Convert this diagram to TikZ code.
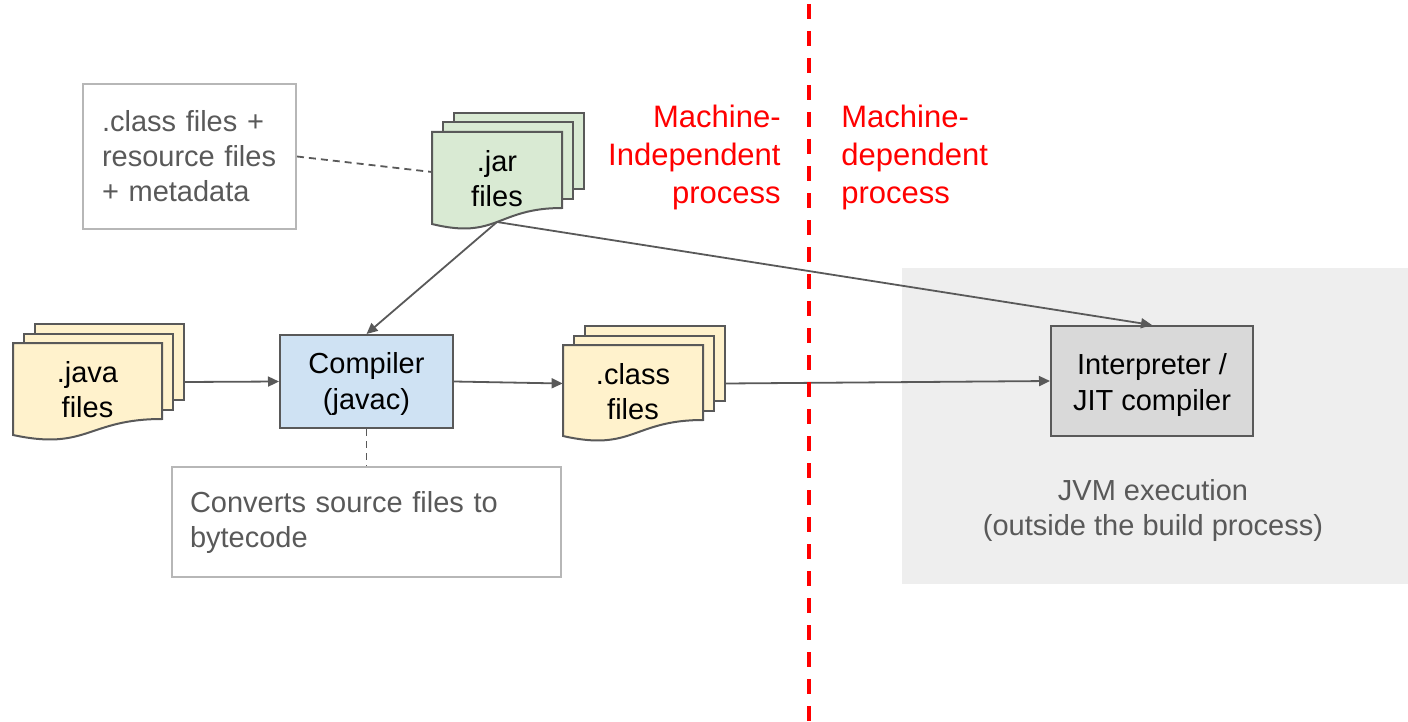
\documentclass[tikz,border=0pt]{standalone}
\usepackage{fontspec}
\setmainfont{Liberation Sans}
\usetikzlibrary{arrows.meta,fit}

\definecolor{docyellow}{HTML}{FFF2CC}
\definecolor{docgreen}{HTML}{D9EAD3}
\definecolor{compblue}{HTML}{CFE2F3}
\definecolor{interpgray}{HTML}{D9D9D9}
\definecolor{zonegray}{HTML}{EEEEEE}
\definecolor{linegray}{HTML}{595959}
\definecolor{noteborder}{HTML}{B7B7B7}
\definecolor{notetext}{HTML}{595959}
\definecolor{sepred}{HTML}{FF0000}

% stack of three document pages: name, x, y (front top-left), width, height, fill, label
\newcommand{\docstack}[7]{%
  \draw[page, fill=#6] (#2+22,#3-19) rectangle (#2+#4+22,#3+#5-19);
  \draw[page, fill=#6] (#2+11,#3-9.5) rectangle (#2+#4+11,#3+#5-9.5);
  \draw[page, fill=#6] (#2,#3) -- (#2+#4,#3) -- (#2+#4,#3+#5)
    .. controls (#2+#4/2,#3+#5) and (#2+#4/2,#3+#5+32) .. (#2,#3+#5+16) -- cycle;
  \coordinate (#1-nw) at (#2,#3-19);
  \coordinate (#1-se) at (#2+#4+22,#3+#5+21);
  \node[fit=(#1-nw)(#1-se), inner sep=0pt] (#1) {};
  \coordinate (#1-wave) at (#2+#4/2,#3+#5+14);
  \coordinate (#1-front) at (#2,#3+40);
  \node[doctext] (#1-label) at (#2+#4/2,#3+47) {#7};
}

\begin{document}
\begin{tikzpicture}[x=0.5pt,y=-0.5pt,
  page/.style={draw=linegray, line width=1pt, line join=miter},
  doctext/.style={font=\fontsize{14.5}{17.5}\selectfont, align=center, text=black, inner sep=0pt},
  procbox/.style={draw=linegray, line width=1pt, font=\fontsize{14.5}{18}\selectfont,
    align=center, inner sep=0pt},
  proclabel/.style={font=\fontsize{14.5}{18}\selectfont, align=center, inner sep=0pt},
  notebox/.style={draw=noteborder, line width=1pt, font=\fontsize{14.5}{17.5}\selectfont,
    text=notetext, align=left, inner ysep=0pt},
  redtext/.style={font=\fontsize{15.5}{19}\selectfont, text=sepred, inner sep=0pt},
  arr/.style={draw=linegray, line width=0.9pt, -{Triangle[length=5.5pt,width=5pt]}},
  link/.style={draw=linegray, line width=0.9pt, dash pattern=on 3.5pt off 2.5pt},
  separator/.style={draw=sepred, line width=2pt, dash pattern=on 7.5pt off 6pt}
]
\useasboundingbox (0,0) rectangle (1408,722);

% JVM zone
\node[fill=zonegray, minimum width=253pt, minimum height=158pt, inner sep=0pt] (jvmzone) at (1155,426) {};
\node[font=\fontsize{14.5}{17.5}\selectfont, text=notetext, align=center, inner sep=0pt]
  (jvmlabel) at (1153,510) {JVM execution\\(outside the build process)};

% document stacks
\docstack{java}{13}{343}{149}{76}{docyellow}{.java\\files}
\docstack{class}{563}{345}{140}{75}{docyellow}{.class\\files}
\docstack{jar}{432}{132}{130}{76}{docgreen}{.jar\\files}

% processing boxes
\node[procbox, fill=compblue, minimum width=86.5pt, minimum height=46.5pt]
  (compiler) at (366.5,381.5) {};
\node[proclabel] (compiler-label) at (366.5,384) {Compiler\\(javac)};
\node[procbox, fill=interpgray, minimum width=101pt, minimum height=55pt]
  (interp) at (1152,381) {};
\node[proclabel] (interp-label) at (1152,385) {Interpreter /\\JIT compiler};

% notes
\node[notebox, text width=87.5pt, inner xsep=9.5pt, minimum height=72.5pt]
  (jarnote) at (189.5,156.5) {.class files +\\resource files\\+ metadata};
\node[notebox, text width=176.5pt, inner xsep=9pt, minimum height=55pt]
  (srcnote) at (366.5,522) {Converts source files to\\bytecode};

% connectors
\draw[link] (jarnote.east) -- (jar-front);
\draw[link] (compiler.south) -- (srcnote.north);
\draw[arr] (java.east) -- (compiler.west);
\draw[arr] (compiler.east) -- (class.west);
\draw[arr] (class.east) -- (interp.west);
\draw[arr] (jar-wave) -- (compiler.north);
\draw[arr] (jar-wave) -- (interp.north);

% machine boundary
\coordinate (septop) at (809,4);
\coordinate (sepbot) at (809,722);
\draw[separator] (septop) -- (sepbot);
\node[redtext, anchor=east, align=right] (indep) at (781,157) {Machine-\\Independent\\process};
\node[redtext, anchor=west, align=left] (dep) at (841,157) {Machine-\\dependent\\process};
\end{tikzpicture}
\end{document}
